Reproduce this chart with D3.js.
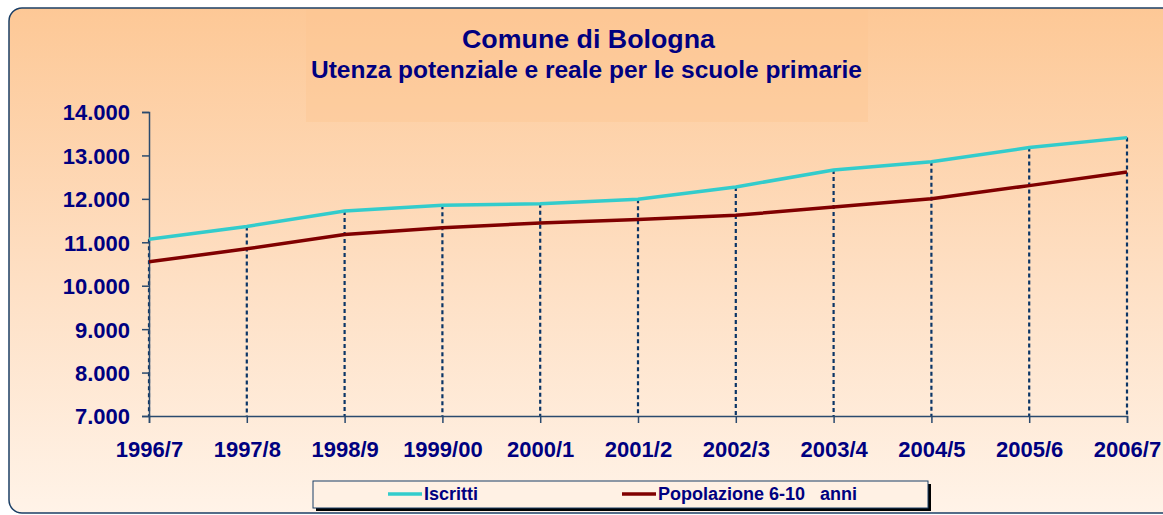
<!DOCTYPE html>
<html>
<head>
<meta charset="utf-8">
<script src="https://cdn.jsdelivr.net/npm/d3@7"></script>
<style>
  html, body { margin: 0; padding: 0; background: #fff; }
  svg { display: block; font-family: "Liberation Sans", Arial, sans-serif; }
</style>
</head>
<body>
<div id="chart"></div>
<script>
let width = 1163, height = 515;

let years = ['1996/7', '1997/8', '1998/9', '1999/00', '2000/1', '2001/2',
    '2002/3', '2003/4', '2004/5', '2005/6', '2006/7'];
let iscritti = [11070, 11365, 11720, 11850, 11890, 11990, 12275, 12665, 12855, 13180, 13410];
let popolazione = [10550, 10850, 11180, 11335, 11445, 11525, 11620, 11815, 12005, 12305, 12620];
let yTicks = [7000, 8000, 9000, 10000, 11000, 12000, 13000, 14000];

let navy = '#000080', axisColor = '#2a4a6e';

let svg = d3.select('#chart')
    .append('svg')
    .attr('width', width)
    .attr('height', height);

let grad = svg.append('defs')
    .append('linearGradient')
    .attr('id', 'bg')
    .attr('x1', '0%').attr('y1', '0%')
    .attr('x2', '0%').attr('y2', '100%');
grad.append('stop').attr('offset', '0%').attr('stop-color', '#fdc896');
grad.append('stop').attr('offset', '55%').attr('stop-color', '#fee0c5');
grad.append('stop').attr('offset', '100%').attr('stop-color', '#fff3e8');

// chart area background
svg.append('rect')
    .attr('x', 9)
    .attr('y', 8)
    .attr('width', 1200)
    .attr('height', 505)
    .attr('rx', 13)
    .attr('fill', 'url(#bg)')
    .attr('stroke', '#1b3f66')
    .attr('stroke-width', 1.5);

// title box
svg.append('rect')
    .attr('x', 306)
    .attr('y', 9)
    .attr('width', 562)
    .attr('height', 113)
    .attr('fill', '#fdc590')
    .attr('opacity', 0.4);

svg.append('text')
    .attr('x', 462)
    .attr('y', 48)
    .attr('font-size', 26)
    .attr('font-weight', 'bold')
    .attr('fill', navy)
    .attr('textLength', 253)
    .attr('lengthAdjust', 'spacingAndGlyphs')
    .text('Comune di Bologna');

svg.append('text')
    .attr('x', 311)
    .attr('y', 78)
    .attr('font-size', 23.5)
    .attr('font-weight', 'bold')
    .attr('fill', navy)
    .attr('textLength', 551)
    .attr('lengthAdjust', 'spacingAndGlyphs')
    .text('Utenza potenziale e reale per le scuole primarie');

let x = d3.scalePoint()
    .domain(years)
    .range([149, 1127]);

let y = d3.scaleLinear()
    .domain([7000, 14000])
    .range([416, 112]);

let fmt = d => d3.format(',')(d).replace(/,/g, '.');

// dotted drop lines
svg.selectAll('dropLine')
    .data(years)
    .enter()
    .append('line')
    .attr('x1', d => x(d))
    .attr('x2', d => x(d))
    .attr('y1', (d, i) => y(Math.max(iscritti[i], popolazione[i])))
    .attr('y2', y(7000))
    .attr('stroke', '#0b3566')
    .attr('stroke-width', 2.2)
    .attr('stroke-dasharray', '4,3');

let yAxis = svg.append('g')
    .attr('transform', 'translate(149,0)')
    .call(d3.axisLeft(y).tickValues(yTicks).tickFormat(fmt).tickSize(7).tickPadding(12));

let xAxis = svg.append('g')
    .attr('transform', 'translate(0,416)')
    .call(d3.axisBottom(x).tickSize(7).tickPadding(18));

[yAxis, xAxis].forEach(g => {
    g.select('.domain').attr('stroke', axisColor).attr('stroke-width', 1.5);
    g.selectAll('.tick line').attr('stroke', axisColor).attr('stroke-width', 1.5);
    g.selectAll('.tick text')
        .attr('fill', navy)
        .attr('font-size', 22)
        .attr('font-weight', 'bold')
        .attr('font-family', '"Liberation Sans", Arial, sans-serif');
});
yAxis.selectAll('.tick text').attr('dy', '0.36em');

let line = d3.line()
    .x((d, i) => x(years[i]))
    .y(d => y(d));

svg.append('path')
    .datum(iscritti)
    .attr('d', line)
    .attr('fill', 'none')
    .attr('stroke', '#33cccc')
    .attr('stroke-width', 3.5);

svg.append('path')
    .datum(popolazione)
    .attr('d', line)
    .attr('fill', 'none')
    .attr('stroke', '#800000')
    .attr('stroke-width', 3.5);

// legend
let legend = svg.append('g');
legend.append('rect')
    .attr('x', 316)
    .attr('y', 484)
    .attr('width', 615)
    .attr('height', 27)
    .attr('fill', '#000');
legend.append('rect')
    .attr('x', 313)
    .attr('y', 481)
    .attr('width', 615)
    .attr('height', 27)
    .attr('fill', '#fff1e4')
    .attr('stroke', '#1b3f66')
    .attr('stroke-width', 1);

let legendItems = [
    {name: 'Iscritti', color: '#33cccc', x: 388},
    {name: 'Popolazione 6-10   anni', color: '#800000', x: 622}
];
legend.selectAll('legendLine')
    .data(legendItems)
    .enter()
    .append('line')
    .attr('x1', d => d.x)
    .attr('x2', d => d.x + 34)
    .attr('y1', 494)
    .attr('y2', 494)
    .attr('stroke', d => d.color)
    .attr('stroke-width', 3.5);
legend.selectAll('legendText')
    .data(legendItems)
    .enter()
    .append('text')
    .attr('x', d => d.x + 36)
    .attr('y', 500)
    .attr('font-size', 18)
    .attr('font-weight', 'bold')
    .attr('fill', navy)
    .style('white-space', 'pre')
    .text(d => d.name);
</script>
</body>
</html>
